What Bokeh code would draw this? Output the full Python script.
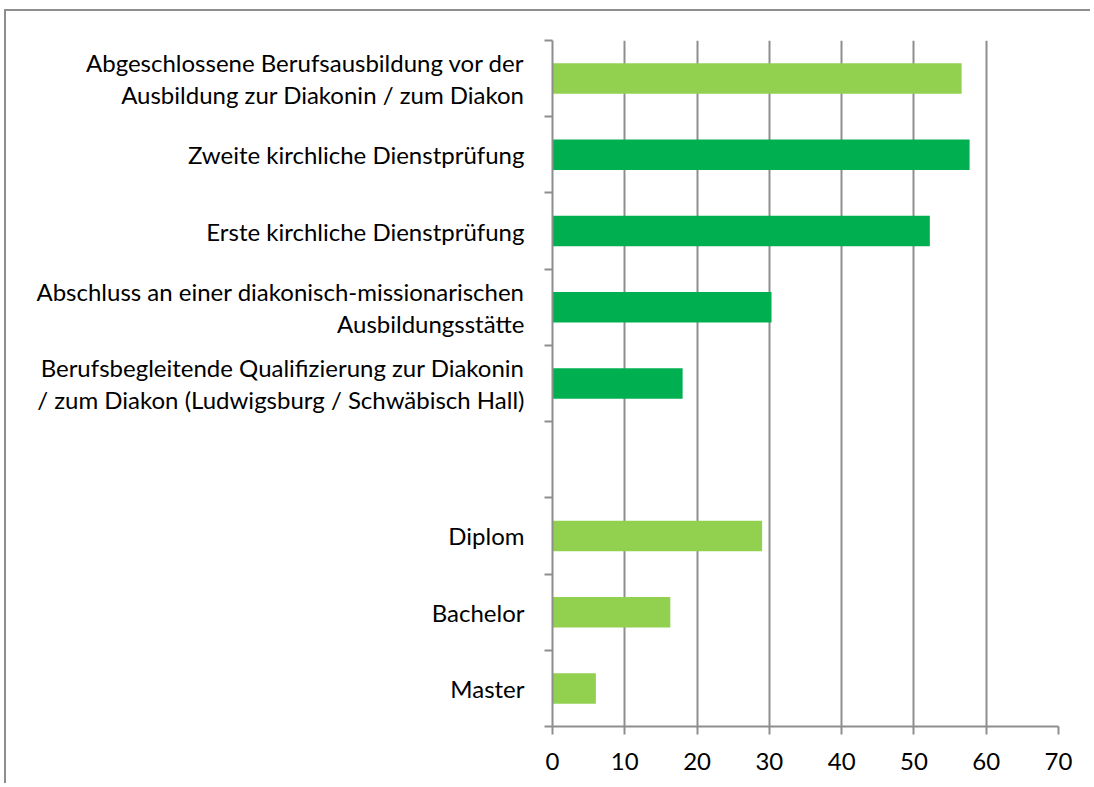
from bokeh.plotting import figure
from bokeh.models import Range1d, FixedTicker, ColumnDataSource
from bokeh.embed import file_html
from bokeh.resources import INLINE

# categories top to bottom ("" = empty slot)
categories = [
    "Abgeschlossene Berufsausbildung vor der\nAusbildung zur Diakonin / zum Diakon",
    "Zweite kirchliche Dienstprüfung",
    "Erste kirchliche Dienstprüfung",
    "Abschluss an einer diakonisch-missionarischen\nAusbildungsstätte",
    "Berufsbegleitende Qualifizierung zur Diakonin\n/ zum Diakon (Ludwigsburg / Schwäbisch Hall)",
    "",
    "Diplom",
    "Bachelor",
    "Master",
]
values = [56.6, 57.7, 52.2, 30.3, 18.0, None, 29.0, 16.3, 6.0]
groups = ["light", "dark", "dark", "dark", "dark", None, "light", "light", "light"]
group_colors = {"light": "#92D050", "dark": "#00B050"}
x_ticks = [0, 10, 20, 30, 40, 50, 60, 70]

n = len(categories)
# slot centre positions (top category at top)
centers = [n - i - 0.5 for i in range(n)]

ys, xs, cols = [], [], []
for c, v, g in zip(centers, values, groups):
    if v is None:
        continue
    ys.append(c)
    xs.append(v)
    cols.append(group_colors[g])
src = ColumnDataSource(dict(y=ys, right=xs, color=cols))

GRAY = "#8e8e8e"
FONT = "Lato"

p = figure(
    width=1086, height=774,
    x_range=Range1d(0, 70), y_range=Range1d(0, n),
    output_backend="svg", toolbar_location=None,
    min_border_left=546, min_border_right=34,
    min_border_top=29, min_border_bottom=59,
)
p.styles = {
    "border-top": "2px solid #8e8e8e",
    "border-left": "2px solid #8e8e8e",
    "margin-top": "9px",
    "margin-left": "4px",
}
p.outline_line_color = None

p.hbar(y="y", left=0, right="right", height=0.4, color="color", line_color=None, source=src)

# x axis
p.xaxis.ticker = FixedTicker(ticks=x_ticks, minor_ticks=[])
p.xaxis.axis_line_color = GRAY
p.xaxis.axis_line_width = 2
p.xaxis.major_tick_line_color = GRAY
p.xaxis.major_tick_line_width = 2
p.xaxis.major_tick_in = 0
p.xaxis.major_tick_out = 8
p.xaxis.minor_tick_line_color = None
p.xaxis.major_label_text_font = FONT
p.xaxis.major_label_text_font_size = "24px"
p.xaxis.major_label_text_color = "#000000"
p.xaxis.major_label_standoff = 18

# y axis: labels at slot centres, ticks at slot boundaries
p.yaxis.ticker = FixedTicker(ticks=centers, minor_ticks=list(range(n + 1)))
p.yaxis.major_label_overrides = {c: lab for c, lab in zip(centers, categories)}
p.yaxis.axis_line_color = GRAY
p.yaxis.axis_line_width = 2
p.yaxis.major_tick_line_color = None
p.yaxis.minor_tick_line_color = GRAY
p.yaxis.minor_tick_line_width = 2
p.yaxis.minor_tick_in = 0
p.yaxis.minor_tick_out = 8
p.yaxis.major_label_text_font = FONT
p.yaxis.major_label_text_font_size = "24px"
p.yaxis.major_label_text_color = "#000000"
p.yaxis.major_label_text_line_height = 1.1
p.yaxis.major_label_standoff = 20

p.xgrid.ticker = FixedTicker(ticks=x_ticks)
p.xgrid.grid_line_color = GRAY
p.xgrid.grid_line_width = 2
p.ygrid.grid_line_color = None

open("out.html", "w").write(file_html(p, INLINE))
